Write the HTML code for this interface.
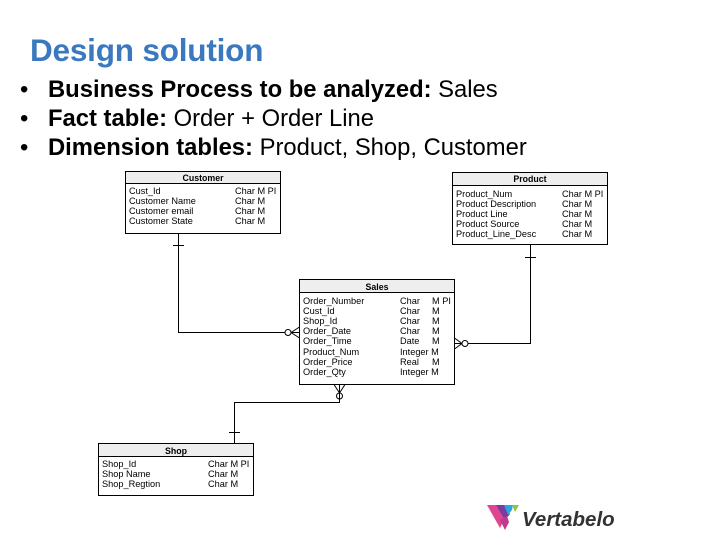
<!DOCTYPE html>
<html><head><meta charset="utf-8"><style>
body{margin:0;width:720px;height:540px;background:#fff;overflow:hidden;font-family:"Liberation Sans",sans-serif;position:relative}
.t{position:absolute;left:30px;top:32px;font-size:31.5px;font-weight:bold;color:#3a78c0;letter-spacing:-0.2px}
ul{position:absolute;left:20px;top:75px;margin:0;padding:0;list-style:none;font-size:23.8px;color:#000}
li{height:29px;line-height:29px;white-space:nowrap}
li:before{content:"•";display:inline-block;width:28px}
</style></head><body>
<div class="t">Design solution</div>
<ul>
<li><b>Business Process to be analyzed:</b> Sales</li>
<li><b>Fact table:</b> Order + Order Line</li>
<li><b>Dimension tables:</b> Product, Shop, Customer</li>
</ul>
<svg width="720" height="540" style="position:absolute;left:0;top:0" font-family="Liberation Sans,sans-serif" font-size="9.2">
<g stroke="#000" fill="none" stroke-width="1">
<rect x="125.5" y="171.5" width="155" height="62" fill="#fff"/>
<rect x="125.5" y="171.5" width="155" height="12" fill="#eee"/>
<rect x="452.5" y="172.5" width="155" height="72" fill="#fff"/>
<rect x="452.5" y="172.5" width="155" height="13" fill="#eee"/>
<rect x="299.5" y="279.5" width="155" height="105" fill="#fff"/>
<rect x="299.5" y="279.5" width="155" height="13" fill="#eee"/>
<rect x="98.5" y="443.5" width="155" height="52" fill="#fff"/>
<rect x="98.5" y="443.5" width="155" height="13" fill="#eee"/>
<path d="M178.5 233.5V332.5H285"/>
<path d="M173 245.5H184"/>
<circle cx="288" cy="332.5" r="3"/>
<path d="M291 332.5H299.5M291 332.5L299.5 327M291 332.5L299.5 338"/>
<path d="M530.5 244.5V343.5H468"/>
<path d="M525 257.5H536"/>
<circle cx="465" cy="343.5" r="3"/>
<path d="M462 343.5H454.5M462 343.5L454.5 338M462 343.5L454.5 349"/>
<path d="M339.5 393V402.5H234.5V443.5"/>
<path d="M229 432.5H240"/>
<circle cx="339.5" cy="396" r="3"/>
<path d="M339.5 393V384.5M339.5 393L334 384.5M339.5 393L345 384.5"/>
</g>
<g font-weight="bold" text-anchor="middle" font-size="8.8">
<text x="203" y="181">Customer</text>
<text x="530" y="182">Product</text>
<text x="377" y="290">Sales</text>
<text x="176" y="454">Shop</text>
</g>
<g>
<text x="129" y="194">Cust_Id</text><text x="235" y="194">Char M PI</text>
<text x="129" y="204">Customer Name</text><text x="235" y="204">Char M</text>
<text x="129" y="214">Customer email</text><text x="235" y="214">Char M</text>
<text x="129" y="224">Customer State</text><text x="235" y="224">Char M</text>

<text x="456" y="197">Product_Num</text><text x="562" y="197">Char M PI</text>
<text x="456" y="207">Product Description</text><text x="562" y="207">Char M</text>
<text x="456" y="217">Product Line</text><text x="562" y="217">Char M</text>
<text x="456" y="227">Product Source</text><text x="562" y="227">Char M</text>
<text x="456" y="237">Product_Line_Desc</text><text x="562" y="237">Char M</text>

<text x="303" y="304">Order_Number</text><text x="400" y="304">Char</text><text x="432" y="304">M PI</text>
<text x="303" y="314">Cust_Id</text><text x="400" y="314">Char</text><text x="432" y="314">M</text>
<text x="303" y="324">Shop_Id</text><text x="400" y="324">Char</text><text x="432" y="324">M</text>
<text x="303" y="334">Order_Date</text><text x="400" y="334">Char</text><text x="432" y="334">M</text>
<text x="303" y="344">Order_Time</text><text x="400" y="344">Date</text><text x="432" y="344">M</text>
<text x="303" y="355">Product_Num</text><text x="400" y="355">Integer M</text>
<text x="303" y="365">Order_Price</text><text x="400" y="365">Real</text><text x="432" y="365">M</text>
<text x="303" y="375">Order_Qty</text><text x="400" y="375">Integer M</text>

<text x="102" y="467">Shop_Id</text><text x="208" y="467">Char M PI</text>
<text x="102" y="477">Shop Name</text><text x="208" y="477">Char M</text>
<text x="102" y="487">Shop_Regtion</text><text x="208" y="487">Char M</text>
</g>
<g>
<polygon points="487,505 498,505 505,518 500,528" fill="#e0458f"/>
<polygon points="496,505 505,505 510,514 505,520" fill="#7a3aa0"/>
<polygon points="504,505 513,505 512,510 508,515" fill="#29a8e0"/>
<polygon points="512,505 519,505 515,512" fill="#8cc640"/>
<polygon points="500,520 507,516 509,522 505,530" fill="#c23a8a"/>
</g>
<text x="522" y="526" font-size="20.5" font-weight="bold" font-style="italic" fill="#333">Vertabelo</text>
</svg>
</body></html>
